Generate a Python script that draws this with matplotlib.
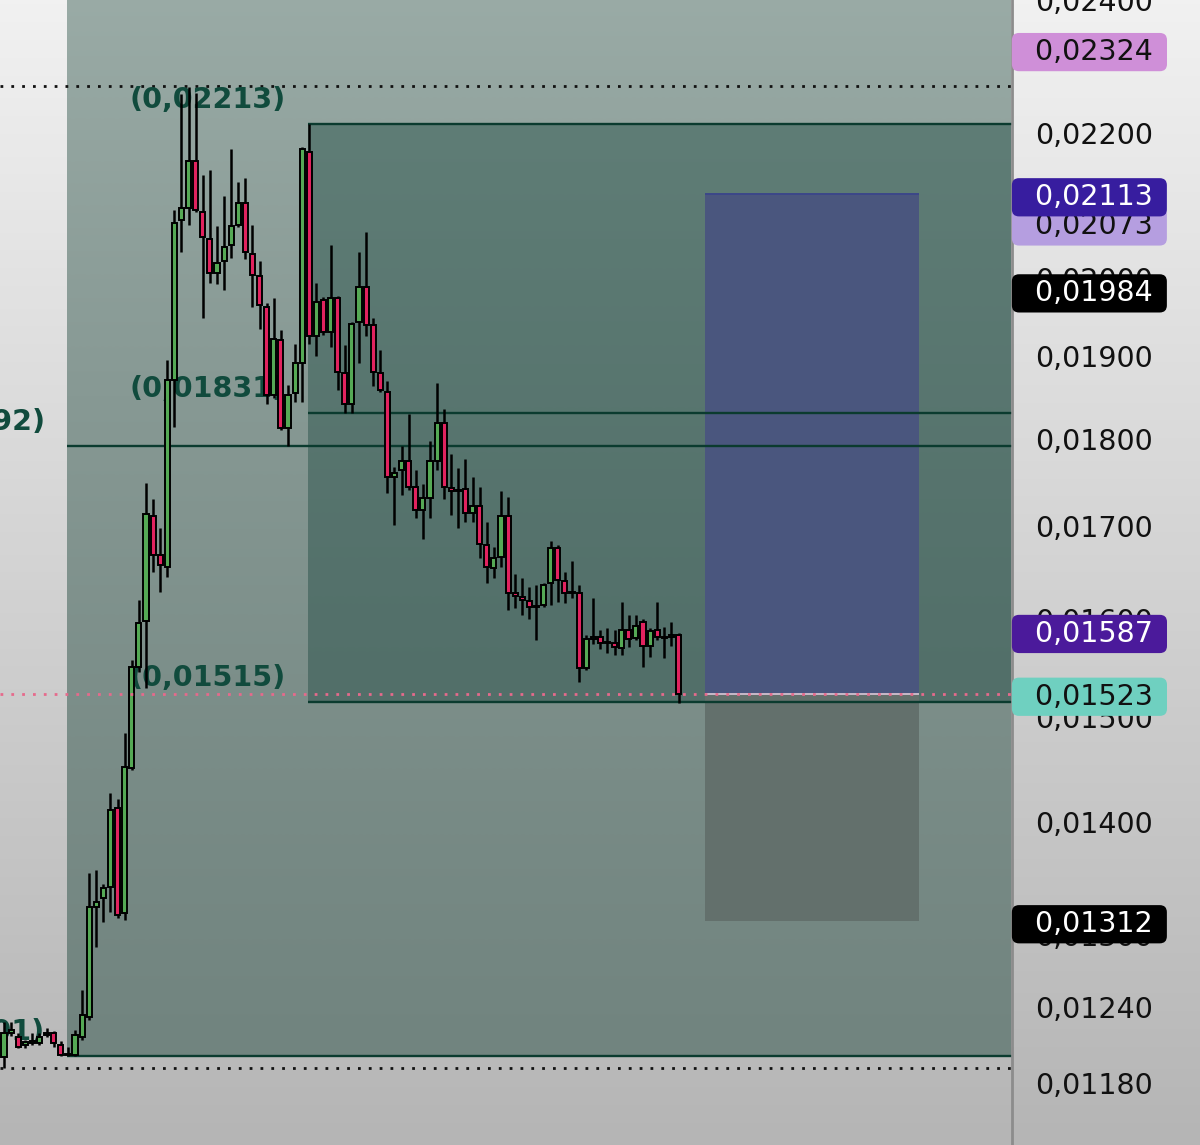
import numpy as np
import matplotlib

matplotlib.use("Agg")
import matplotlib.pyplot as plt
from matplotlib.colors import to_rgb
from matplotlib.patches import Rectangle
from matplotlib.ticker import FixedLocator, FuncFormatter, NullLocator

plt.rcParams["font.family"] = ["DejaVu Sans"]

# ── Candles, oldest first (price) ─────────────────────────────────────────────
OPEN = [0.01200, 0.01219, 0.01216, 0.01210, 0.01211, 0.01211, 0.01218, 0.01219, 0.01210, 0.01203,
        0.01202, 0.01216, 0.01232, 0.01324, 0.01332, 0.01342, 0.01413, 0.01319, 0.01451, 0.01550,
        0.01597, 0.01711, 0.01668, 0.01655, 0.01871, 0.02078, 0.02094, 0.02159, 0.02089, 0.02052,
        0.02007, 0.02022, 0.02044, 0.02071, 0.02101, 0.02032, 0.02003, 0.01963, 0.01853, 0.01921,
        0.01813, 0.01855, 0.01892, 0.02173, 0.01925, 0.01972, 0.01930, 0.01974, 0.01880, 0.01841,
        0.01943, 0.01989, 0.01939, 0.01880, 0.01856, 0.01755, 0.01764, 0.01774, 0.01744, 0.01718,
        0.01732, 0.01774, 0.01819, 0.01743, 0.01741, 0.01742, 0.01715, 0.01723, 0.01679, 0.01654,
        0.01666, 0.01711, 0.01627, 0.01623, 0.01618, 0.01612, 0.01614, 0.01638, 0.01676, 0.01640,
        0.01628, 0.01627, 0.01549, 0.01579, 0.01581, 0.01576, 0.01575, 0.01569, 0.01588, 0.01580,
        0.01596, 0.01571, 0.01588, 0.01581, 0.01581, 0.01583]
HIGH = [0.01228, 0.01228, 0.01219, 0.01214, 0.01219, 0.01219, 0.01223, 0.01221, 0.01213, 0.01208,
        0.01222, 0.01254, 0.01354, 0.01357, 0.01344, 0.01427, 0.01421, 0.01484, 0.01557, 0.01620,
        0.01749, 0.01730, 0.01698, 0.01896, 0.02092, 0.02256, 0.02267, 0.02258, 0.02140, 0.02147,
        0.02069, 0.02110, 0.02177, 0.02130, 0.02135, 0.02071, 0.02022, 0.01968, 0.01974, 0.01933,
        0.01865, 0.01915, 0.02180, 0.02213, 0.01994, 0.01976, 0.02044, 0.01977, 0.01914, 0.01943,
        0.02035, 0.02062, 0.01949, 0.01908, 0.01869, 0.01767, 0.01791, 0.01829, 0.01764, 0.01747,
        0.01797, 0.01867, 0.01835, 0.01782, 0.01766, 0.01776, 0.01756, 0.01744, 0.01705, 0.01677,
        0.01740, 0.01733, 0.01647, 0.01643, 0.01633, 0.01636, 0.01638, 0.01683, 0.01679, 0.01650,
        0.01661, 0.01636, 0.01583, 0.01622, 0.01588, 0.01590, 0.01588, 0.01617, 0.01604, 0.01604,
        0.01600, 0.01590, 0.01617, 0.01591, 0.01596, 0.01585]
LOW = [0.01192, 0.01217, 0.01207, 0.01207, 0.01210, 0.01210, 0.01216, 0.01208, 0.01201, 0.01201,
       0.01201, 0.01214, 0.01230, 0.01290, 0.01311, 0.01320, 0.01315, 0.01313, 0.01449, 0.01545,
       0.01529, 0.01650, 0.01628, 0.01644, 0.01814, 0.02034, 0.02071, 0.02088, 0.01949, 0.01994,
       0.01992, 0.01985, 0.02027, 0.02068, 0.02025, 0.01963, 0.01935, 0.01841, 0.01849, 0.01811,
       0.01791, 0.01844, 0.01844, 0.01915, 0.01900, 0.01927, 0.01912, 0.01859, 0.01831, 0.01831,
       0.01892, 0.01925, 0.01863, 0.01856, 0.01737, 0.01701, 0.01735, 0.01741, 0.01709, 0.01686,
       0.01709, 0.01764, 0.01730, 0.01712, 0.01698, 0.01704, 0.01705, 0.01665, 0.01638, 0.01643,
       0.01655, 0.01609, 0.01611, 0.01604, 0.01599, 0.01578, 0.01612, 0.01614, 0.01617, 0.01616,
       0.01622, 0.01535, 0.01547, 0.01573, 0.01568, 0.01564, 0.01562, 0.01562, 0.01570, 0.01578,
       0.01550, 0.01560, 0.01578, 0.01559, 0.01571, 0.01514]
CLOSE = [0.01219, 0.01222, 0.01208, 0.01212, 0.01213, 0.01216, 0.01219, 0.01211, 0.01202, 0.01202,
         0.01218, 0.01234, 0.01324, 0.01329, 0.01341, 0.01411, 0.01317, 0.01452, 0.01550, 0.01595,
         0.01713, 0.01668, 0.01657, 0.01871, 0.02074, 0.02094, 0.02159, 0.02092, 0.02055, 0.02007,
         0.02020, 0.02041, 0.02070, 0.02101, 0.02035, 0.02004, 0.01965, 0.01853, 0.01922, 0.01813,
         0.01853, 0.01892, 0.02176, 0.01925, 0.01969, 0.01930, 0.01974, 0.01881, 0.01841, 0.01941,
         0.01989, 0.01940, 0.01881, 0.01859, 0.01755, 0.01760, 0.01774, 0.01744, 0.01718, 0.01732,
         0.01774, 0.01819, 0.01744, 0.01739, 0.01740, 0.01715, 0.01723, 0.01680, 0.01655, 0.01665,
         0.01711, 0.01627, 0.01624, 0.01620, 0.01612, 0.01613, 0.01636, 0.01676, 0.01641, 0.01627,
         0.01627, 0.01549, 0.01579, 0.01581, 0.01575, 0.01575, 0.01570, 0.01588, 0.01579, 0.01592,
         0.01571, 0.01587, 0.01581, 0.01580, 0.01583, 0.01523]

# ── Drawn levels ──────────────────────────────────────────────────────────────
RANGE_HIGH, RANGE_LOW = 0.02268, 0.01192       # dotted black lines
LAST_PRICE = 0.01523                           # dotted pink line
OUTER_START = 8.9                              # candle index where the wide box starts
OUTER_LEVELS = [0.01792, 0.01201]
OUTER_TOP = 0.0250
INNER_START = 42.85
INNER_LEVELS = [0.02213, 0.01831, 0.01515]
POS_START, POS_END = 98.73, 128.87
POS_TARGET, POS_ENTRY, POS_STOP = 0.02113, 0.01523, 0.01312

Y_TICKS = [0.02400, 0.02200, 0.02000, 0.01900, 0.01800, 0.01700, 0.01600,
           0.01500, 0.01400, 0.01300, 0.01240, 0.01180]
TAGS = [  # price, box colour, text colour
    (0.02324, "#cf8fd8", "#111111"),
    (0.02073, "#b59ee0", "#111111"),
    (0.02113, "#371d9f", "#ffffff"),
    (0.01984, "#000000", "#ffffff"),
    (0.01587, "#4b1a9b", "#ffffff"),
    (0.01523, "#6fd0c0", "#111111"),
    (0.01312, "#000000", "#ffffff"),
]

X_MIN, X_MAX = -0.56, 141.97
Y_MIN, Y_MAX = 0.01133, 0.02400

LINE = "#0b3b2f"
LABEL = "#114b3d"
GREEN, RED = "#55a955", "#e1235f"
DOTS = (0, (1, 2.9))


def fmt(v):
    return f"{v:.5f}".replace(".", ",")


def vgrad(top, bottom, n=256):
    t = np.linspace(0, 1, n)[:, None, None]
    return np.array(to_rgb(top)) * (1 - t) + np.array(to_rgb(bottom)) * t


fig = plt.figure(figsize=(12, 11.45), dpi=100)

# page background
bg = fig.add_axes([0, 0, 1, 1], zorder=-5)
bg.imshow(vgrad("#f1f1f1", "#b5b5b5"), extent=(0, 1, 0, 1), aspect="auto")
bg.set_xlim(0, 1); bg.set_ylim(0, 1)
bg.axis("off")

ax = fig.add_axes([0, 0, 1012 / 1200, 1])
ax.set_facecolor("none")
ax.set_yscale("log")

# ── Boxes ─────────────────────────────────────────────────────────────────────
ax.imshow(vgrad("#9daea9", "#71847f"), extent=(OUTER_START, X_MAX, OUTER_LEVELS[-1], OUTER_TOP),
          aspect="auto", interpolation="bilinear", zorder=0.5)
ax.imshow(vgrad("#5f7d76", "#526f69"), extent=(INNER_START, X_MAX, INNER_LEVELS[-1], INNER_LEVELS[0]),
          aspect="auto", interpolation="bilinear", zorder=0.6)
ax.add_patch(Rectangle((POS_START, POS_ENTRY), POS_END - POS_START, POS_TARGET - POS_ENTRY,
                       facecolor="#4a567e", edgecolor="none", zorder=0.8))
ax.add_patch(Rectangle((POS_START, POS_STOP), POS_END - POS_START, POS_ENTRY - POS_STOP,
                       facecolor="#63706c", edgecolor="none", zorder=0.8))
ax.hlines(POS_TARGET, POS_START, POS_END, color="#3c4789", lw=1.4, zorder=0.9)
ax.hlines(POS_ENTRY, POS_START, POS_END, color="#c8b9c9", lw=1.4, zorder=0.9)

ax.hlines(OUTER_LEVELS, OUTER_START, X_MAX, color=LINE, lw=1.7, zorder=1)
ax.hlines(INNER_LEVELS, INNER_START, X_MAX, color=LINE, lw=1.7, zorder=1)

ax.axhline(RANGE_HIGH, color="#111111", lw=2.0, ls=DOTS, zorder=1)
ax.axhline(RANGE_LOW, color="#111111", lw=2.0, ls=DOTS, zorder=1)
ax.axhline(LAST_PRICE, color="#e66a8c", lw=2.0, ls=DOTS, zorder=5)

# level labels, left of each box
for start, levels in ((OUTER_START, OUTER_LEVELS), (INNER_START, INNER_LEVELS)):
    for lv in levels:
        ax.annotate(f"({fmt(lv)})", xy=(start, lv), xytext=(-22, 24), textcoords="offset pixels",
                    ha="right", va="center", fontsize=20.5, fontweight="bold", color=LABEL,
                    zorder=2, annotation_clip=False)

# ── Candles ───────────────────────────────────────────────────────────────────
o, h, l, c = map(np.array, (OPEN, HIGH, LOW, CLOSE))
idx = np.arange(len(o))
ax.vlines(idx, l, h, color="black", lw=1.8, zorder=3)
body_lo = np.minimum(o, c)
body_h = np.maximum(np.abs(c - o), 0.000008)
colors = [GREEN if cc >= oo else RED for oo, cc in zip(o, c)]
ax.bar(idx, body_h, bottom=body_lo, width=0.72, color=colors, edgecolor="black",
       linewidth=1.4, zorder=4)

# ── Axis ──────────────────────────────────────────────────────────────────────
ax.set_xlim(X_MIN, X_MAX)
ax.set_ylim(Y_MIN, Y_MAX)
ax.yaxis.tick_right()
ax.yaxis.set_major_locator(FixedLocator(Y_TICKS))
ax.yaxis.set_major_formatter(FuncFormatter(lambda v, _: fmt(v)))
ax.yaxis.set_minor_locator(NullLocator())
ax.tick_params(axis="y", length=0, pad=16.5, labelsize=20.5, labelcolor="#111111")
ax.tick_params(axis="x", bottom=False, labelbottom=False)
for s in ("left", "top", "bottom"):
    ax.spines[s].set_visible(False)
ax.spines["right"].set_color("#8c8c8c")
ax.spines["right"].set_linewidth(2)

# price tags on the axis
for i, (p, fc, tc) in enumerate(TAGS):
    ax.annotate(f"  {fmt(p)} ", xy=(1, p), xycoords=ax.get_yaxis_transform(),
                xytext=(5, 0), textcoords="offset pixels", ha="left", va="center_baseline",
                fontsize=20.5, color=tc, zorder=6 + i, annotation_clip=False,
                bbox=dict(boxstyle="round,pad=0.18,rounding_size=0.25", fc=fc, ec="none"))

fig.savefig("out.png", dpi=100)
